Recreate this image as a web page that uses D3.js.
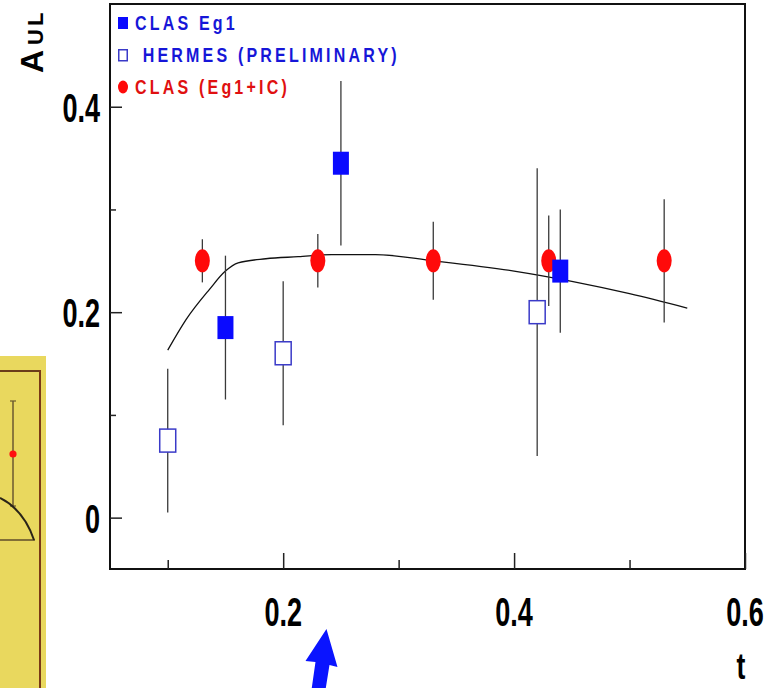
<!DOCTYPE html>
<html>
<head>
<meta charset="utf-8">
<script src="https://cdn.jsdelivr.net/npm/d3@7/dist/d3.min.js"></script>
<style>
  html, body { margin: 0; padding: 0; background: #ffffff; }
  svg { display: block; }
  text { font-family: "Liberation Sans", Arial, Helvetica, sans-serif; font-weight: bold; }
</style>
</head>
<body>
<svg id="chart" width="780" height="688"></svg>
<script>
// ---- data ----
const clasT   = [0.15, 0.25, 0.44];
const clasA   = [0.185, 0.345, 0.24];
const clasErr = [0.07, 0.08, 0.06];

const hermesT   = [0.10, 0.20, 0.42];
const hermesA   = [0.075, 0.16, 0.20];
const hermesErr = [0.07, 0.07, 0.14];

const icT   = [0.13, 0.23, 0.33, 0.43, 0.53];
const icA   = [0.25, 0.25, 0.25, 0.25, 0.25];
const icErr = [0.021, 0.026, 0.038, 0.044, 0.06];

// model curve
const fitT = [0.10, 0.116, 0.136, 0.15, 0.161, 0.185, 0.213, 0.242, 0.28, 0.33, 0.40, 0.45, 0.50, 0.55];
const fitA = [0.163, 0.193, 0.222, 0.240, 0.248, 0.252, 0.254, 0.256, 0.256, 0.250, 0.240, 0.230, 0.218, 0.204];

const xMajor = [0.2, 0.4, 0.6];
const xMinor = [0.1, 0.3, 0.5];
const yMajor = [0, 0.2, 0.4];
const yMinor = [0.1, 0.3];
const xLabels = ["0.2", "0.4", "0.6"];
const yLabels = ["0", "0.2", "0.4"];

const legendNames = ["CLAS Eg1", " HERMES (PRELIMINARY)", "CLAS (Eg1+IC)"];

// ---- layout ----
const svg = d3.select("#chart");
const frame = { left: 110, right: 745, top: 4, bottom: 569 };

const x = d3.scaleLinear().domain([0.05, 0.6]).range([frame.left, frame.right]);
const y = d3.scaleLinear().domain([-0.05, 0.5]).range([frame.bottom, frame.top]);

const BLUE = "#0a0aff";
const BLUE_TEXT = "#1616d8";
const RED = "#ff0a0a";
const RED_TEXT = "#e01010";
const BAR = "#3a3a3a";

// ---- decorative inset at the left edge ----
const inset = svg.append("g");
inset.append("rect").attr("x", 0).attr("y", 356).attr("width", 46).attr("height", 332).attr("fill", "#e9d85e");
inset.append("line").attr("x1", 0).attr("x2", 41).attr("y1", 371).attr("y2", 371).attr("stroke", "#6b3d1a").attr("stroke-width", 2);
inset.append("line").attr("x1", 40).attr("x2", 40).attr("y1", 370).attr("y2", 688).attr("stroke", "#7a3a16").attr("stroke-width", 2);
inset.append("line").attr("x1", 0).attr("x2", 35).attr("y1", 540).attr("y2", 540).attr("stroke", "#5e4c2a").attr("stroke-width", 1.5);
inset.append("line").attr("x1", 13).attr("x2", 13).attr("y1", 401).attr("y2", 506).attr("stroke", "#6b5a30").attr("stroke-width", 1.5);
inset.append("line").attr("x1", 10).attr("x2", 16).attr("y1", 401).attr("y2", 401).attr("stroke", "#6b5a30").attr("stroke-width", 1.2);
inset.append("line").attr("x1", 10).attr("x2", 16).attr("y1", 506).attr("y2", 506).attr("stroke", "#6b5a30").attr("stroke-width", 1.2);
inset.append("circle").attr("cx", 13).attr("cy", 454).attr("r", 3.6).attr("fill", "#ff1010");
inset.append("path").attr("d", "M0,498 Q24,510 34,540").attr("fill", "none").attr("stroke", "#2a2418").attr("stroke-width", 2);

// ---- plot frame ----
svg.append("rect")
  .attr("x", frame.left).attr("y", frame.top)
  .attr("width", frame.right - frame.left).attr("height", frame.bottom - frame.top)
  .attr("fill", "#ffffff").attr("stroke", "#111").attr("stroke-width", 2);

// ticks drawn inward with d3 axes
const gx = svg.append("g").attr("transform", `translate(0,${frame.bottom})`);
gx.append("g").call(d3.axisBottom(x).tickValues(xMajor).tickSize(-16).tickFormat(""));
gx.append("g").call(d3.axisBottom(x).tickValues(xMinor).tickSize(-9).tickFormat(""));
const gy = svg.append("g").attr("transform", `translate(${frame.left},0)`);
gy.append("g").call(d3.axisLeft(y).tickValues(yMajor).tickSize(-12).tickFormat(""));
gy.append("g").call(d3.axisLeft(y).tickValues(yMinor).tickSize(-6).tickFormat(""));
svg.selectAll(".domain").remove();
svg.selectAll(".tick line").attr("stroke", "#222").attr("stroke-width", 1.5);

// condensed bold tick labels
const SX = 0.66;
svg.append("g").selectAll("text").data(xMajor).join("text")
  .attr("transform", (d) => `translate(${x(d)},626) scale(${SX},1)`)
  .attr("text-anchor", "middle").attr("font-size", 41).attr("fill", "#000")
  .text((d, i) => xLabels[i]);
svg.append("g").selectAll("text").data(yMajor).join("text")
  .attr("transform", (d) => `translate(100,${y(d) + 15}) scale(${SX},1)`)
  .attr("text-anchor", "end").attr("font-size", 41).attr("fill", "#000")
  .text((d, i) => yLabels[i]);

// axis titles
svg.append("text").attr("transform", `translate(741,679) scale(0.72,1)`)
  .attr("text-anchor", "middle").attr("font-size", 37).attr("fill", "#000").text("t");
const yt = svg.append("text").attr("transform", "translate(43,73) rotate(-90)")
  .attr("fill", "#000");
yt.append("tspan").attr("font-size", 32).text("A");
yt.append("tspan").attr("font-size", 22).attr("dx", 5).attr("letter-spacing", 3).text("UL");

// ---- model curve ----
const fitLine = d3.line().x((d, i) => x(fitT[i])).y((d, i) => y(d)).curve(d3.curveMonotoneX);
svg.append("path").datum(fitA).attr("d", fitLine)
  .attr("fill", "none").attr("stroke", "#111").attr("stroke-width", 1.3);

// ---- error bars ----
function errorBars(ts, as, es) {
  svg.append("g").selectAll("line").data(as).join("line")
    .attr("x1", (d, i) => x(ts[i])).attr("x2", (d, i) => x(ts[i]))
    .attr("y1", (d, i) => y(d + es[i])).attr("y2", (d, i) => y(d - es[i]))
    .attr("stroke", BAR).attr("stroke-width", 1.3);
}
errorBars(icT, icA, icErr);
errorBars(hermesT, hermesA, hermesErr);
errorBars(clasT, clasA, clasErr);

// ---- markers ----
const MW = 16, MH = 23;
svg.append("g").selectAll("ellipse").data(icA).join("ellipse")
  .attr("cx", (d, i) => x(icT[i])).attr("cy", (d) => y(d))
  .attr("rx", 7.5).attr("ry", 11.5).attr("fill", RED);
svg.append("g").selectAll("rect").data(hermesA).join("rect")
  .attr("x", (d, i) => x(hermesT[i]) - MW / 2).attr("y", (d) => y(d) - MH / 2)
  .attr("width", MW).attr("height", MH)
  .attr("fill", "#ffffff").attr("stroke", "#3a3ac8").attr("stroke-width", 1.5);
svg.append("g").selectAll("rect").data(clasA).join("rect")
  .attr("x", (d, i) => x(clasT[i]) - MW / 2).attr("y", (d) => y(d) - MH / 2)
  .attr("width", MW).attr("height", MH).attr("fill", BLUE);

// ---- legend ----
const lg = svg.append("g");
lg.append("rect").attr("x", 118).attr("y", 17).attr("width", 10).attr("height", 12).attr("fill", BLUE);
lg.append("rect").attr("x", 118.75).attr("y", 49.75).attr("width", 8.5).attr("height", 11).attr("fill", "#fff")
  .attr("stroke", "#3a3ac8").attr("stroke-width", 1.5);
lg.append("ellipse").attr("cx", 123).attr("cy", 87).attr("rx", 5).attr("ry", 6.5).attr("fill", RED);
const legendY = [30, 62, 94];
const legendX = [135, 135, 135];
const legendC = [BLUE_TEXT, BLUE_TEXT, RED_TEXT];
lg.selectAll("text").data(legendNames).join("text")
  .attr("transform", (d, i) => `translate(${legendX[i]},${legendY[i]}) scale(0.8,1)`)
  .attr("font-size", 20).attr("letter-spacing", 4)
  .attr("xml:space", "preserve").style("white-space", "pre")
  .attr("fill", (d, i) => legendC[i]).text((d) => d);

// ---- blue arrow pointing at the t axis ----
const ax = x(0.2375);
svg.append("path")
  .attr("d", `M${ax},629 L${ax + 11},667 L${ax + 3},665 L${ax - 1},690 L${ax - 15},690 L${ax - 11},662 L${ax - 21},661 Z`)
  .attr("fill", "#0a14ff");
</script>
</body>
</html>
